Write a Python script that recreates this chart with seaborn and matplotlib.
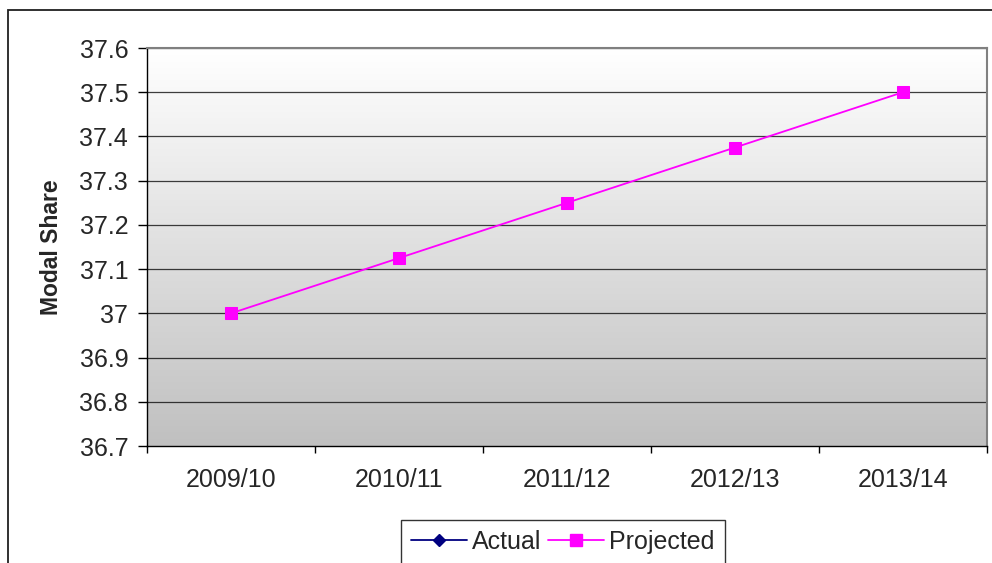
import numpy as np
import pandas as pd
import matplotlib
matplotlib.use("Agg")
import matplotlib.pyplot as plt
import seaborn as sns
from matplotlib.patches import Rectangle
from matplotlib.lines import Line2D
from matplotlib.colors import LinearSegmentedColormap

years = ["2009/10", "2010/11", "2011/12", "2012/13", "2013/14"]
actual = [37.0, None, None, None, None]
projected = [37.0, 37.125, 37.25, 37.375, 37.5]
yticks = [36.7, 36.8, 36.9, 37.0, 37.1, 37.2, 37.3, 37.4, 37.5, 37.6]
ytick_labels = ["36.7", "36.8", "36.9", "37", "37.1", "37.2", "37.3", "37.4", "37.5", "37.6"]

sns.set_style("white")
plt.rcParams['font.family'] = ['Liberation Sans', 'DejaVu Sans']

W, H = 992, 563
fig = plt.figure(figsize=(W / 100, H / 100), dpi=100)
ax = fig.add_axes([147 / W, 1 - 446 / H, (987 - 147) / W, (446 - 48) / H])

# gradient background
grad = np.linspace(1.0, 0.0, 256).reshape(-1, 1)
cmap = LinearSegmentedColormap.from_list("g", ["#c0c0c0", "#ffffff"])
ax.imshow(grad, aspect="auto", cmap=cmap, extent=[-0.5, 4.5, 36.7, 37.6],
          origin="upper", zorder=0, vmin=0, vmax=1)

df = pd.DataFrame({"year": years, "x": np.arange(len(years)),
                   "Actual": actual, "Projected": projected})

for y in yticks[1:]:
    ax.axhline(y, color="#000000", lw=0.9, zorder=1, alpha=0.75)

sns.lineplot(data=df, x="x", y="Projected", ax=ax, color="#ff00ff", lw=1.3,
             marker="s", markersize=8.5, markeredgecolor="#ff00ff", zorder=3)
sns.lineplot(data=df.dropna(subset=["Actual"]), x="x", y="Actual", ax=ax,
             color="#000080", lw=1.3, marker="D", markersize=6,
             markeredgecolor="#000080", zorder=2)

ax.set_xlim(-0.5, 4.5)
ax.set_ylim(36.7, 37.6)
ax.set_yticks(yticks)
ax.set_yticklabels(ytick_labels)
ax.set_xticks(np.arange(len(years)))
ax.set_xticklabels(years)
ax.set_xticks(np.arange(-0.5, 4.6, 1.0), minor=True)
ax.tick_params(axis="x", which="major", length=0, pad=16, labelsize=18)
ax.tick_params(axis="x", which="minor", bottom=True, length=5, width=1,
               color="black", direction="out")
ax.tick_params(axis="y", which="major", left=True, length=6.5, width=1,
               color="black", direction="out", labelsize=18, pad=7)
ax.set_xlabel("")
ax.set_ylabel("Modal Share", fontsize=16.5, fontweight="bold", labelpad=12)

for side in ["left", "bottom"]:
    ax.spines[side].set_visible(True)
    ax.spines[side].set_color("black")
    ax.spines[side].set_linewidth(1.0)
for side in ["top", "right"]:
    ax.spines[side].set_visible(True)
    ax.spines[side].set_color("#808080")
    ax.spines[side].set_linewidth(1.5)

handles = [Line2D([], [], color="#000080", lw=1.3, marker="D", markersize=6.5),
           Line2D([], [], color="#ff00ff", lw=1.3, marker="s", markersize=8)]
leg = fig.legend(handles, ["Actual", "Projected"], loc="upper left",
                 bbox_to_anchor=(401 / W, 1 - 520 / H), ncol=2, frameon=True,
                 fancybox=False, fontsize=18, handlelength=2.25,
                 columnspacing=0.25, handletextpad=0.2, borderpad=0.4,
                 borderaxespad=0, edgecolor="black")
leg.get_frame().set_linewidth(1.0)

fig.patches.append(Rectangle((8 / W, -0.1), 1.2, 1 - 10 / H + 0.1,
                             transform=fig.transFigure, fill=False,
                             edgecolor="#202020", lw=1.3))

fig.savefig("out.png", dpi=100)
